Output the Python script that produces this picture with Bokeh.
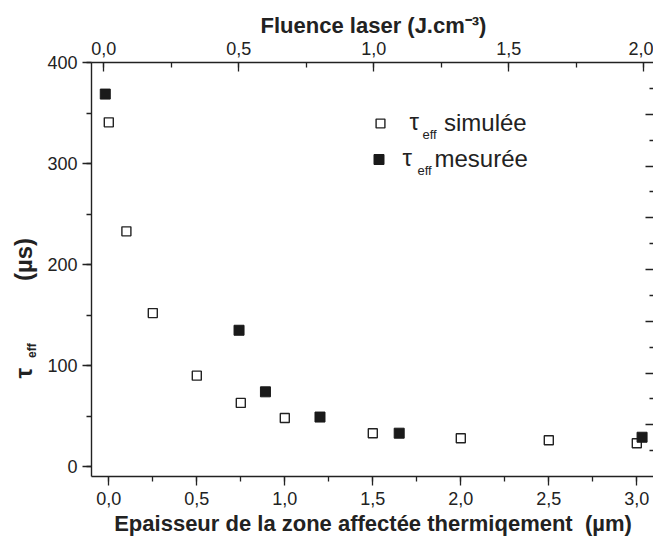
import math
from bokeh.plotting import figure
from bokeh.models import (Range1d, LinearAxis, SingleIntervalTicker, FixedTicker,
                          CustomJSTickFormatter, Label, Legend, LegendItem)
from bokeh.core.properties import value
from bokeh.embed import file_html
from bokeh.resources import INLINE

try:
    from bokeh.core.enums import CoordinateUnits
    CANVAS_OK = "canvas" in CoordinateUnits
except Exception:
    CANVAS_OK = False

# ---- data ----
sim_thickness = [0.0, 0.1, 0.25, 0.5, 0.75, 1.0, 1.5, 2.0, 2.5, 3.0]
sim_tau = [341, 233, 152, 90, 63, 48, 33, 28, 26, 23]
mes_thickness = [-0.02, 0.74, 0.89, 1.2, 1.65, 3.03]
mes_tau = [369, 135, 74, 49, 33, 29]

bottom_tick_step = 0.5      # Epaisseur (µm)
top_tick_step = 0.5         # Fluence (J.cm-3)
left_tick_step = 100        # tau_eff (µs)
right_major_ticks = [1, 2, 3, 4, 5, 6, 7]
right_minor_ticks = [0.5, 1.5, 2.5, 3.5, 4.5, 5.5, 6.5, 7.5]

FONT = "Liberation Sans"
INK = "#222222"
NB = "\u00a0"

# frame placement (canvas pixels)
FL, FT, FB = 91, 62, 476
Q = 0.33  # empirical baseline correction (fraction of font size)

p = figure(width=653, height=537, output_backend="svg", toolbar_location=None,
           x_range=Range1d(-0.0983, 3.0949), y_range=Range1d(-9.9, 400.3),
           x_axis_type=None, y_axis_type=None,
           min_border_left=FL, min_border_right=0, min_border_top=FT, min_border_bottom=537 - FB)
p.outline_line_color = None
p.background_fill_color = "white"
p.border_fill_color = "white"
p.extra_x_ranges = {"fluence": Range1d(-0.04556, 2.0359)}
p.extra_y_ranges = {"right": Range1d(0, 8)}

comma = CustomJSTickFormatter(code="return tick.toFixed(1).replace('.', ',');")


def style(ax, tin, tout, mtin, mtout, standoff):
    ax.axis_line_color = INK
    ax.axis_line_width = 1.4
    ax.major_tick_line_color = INK
    ax.minor_tick_line_color = INK
    ax.major_tick_line_width = 1.3
    ax.minor_tick_line_width = 1.3
    ax.major_tick_in = tin
    ax.major_tick_out = tout
    ax.minor_tick_in = mtin
    ax.minor_tick_out = mtout
    ax.major_label_text_font = FONT
    ax.major_label_text_font_size = "18px"
    ax.major_label_text_color = INK
    ax.major_label_standoff = standoff


bottom = LinearAxis(ticker=SingleIntervalTicker(interval=bottom_tick_step, num_minor_ticks=2),
                    formatter=comma)
style(bottom, 0, 9, 0, 5, 6)
p.add_layout(bottom, "below")

left = LinearAxis(ticker=SingleIntervalTicker(interval=left_tick_step, num_minor_ticks=2))
style(left, 0, 9, 0, 5, 5)
p.add_layout(left, "left")

top = LinearAxis(x_range_name="fluence",
                 ticker=SingleIntervalTicker(interval=top_tick_step, num_minor_ticks=2),
                 formatter=comma)
style(top, 9, 0, 5, 0, 8)
p.add_layout(top, "above")

# right side: long and short inward ticks, no labels, no line (axis line lies off-picture)
for ticks, length in ((right_major_ticks, 8), (right_minor_ticks, 4)):
    ax = LinearAxis(y_range_name="right", ticker=FixedTicker(ticks=[], minor_ticks=ticks))
    style(ax, 0, 0, length, 0, 0)
    ax.axis_line_color = None
    p.add_layout(ax, "right")

r_sim = p.scatter(sim_thickness, sim_tau, marker="square", size=9,
                  fill_color="white", line_color=INK, line_width=1.4)
r_mes = p.scatter(mes_thickness, mes_tau, marker="square", size=10,
                  fill_color="#1a1a1a", line_color="#1a1a1a", line_width=1)


def legend_for(renderer, text, cx, cy, gw, label_x):
    gh = 28
    left_x = cx - gw / 2
    lg = Legend(items=[LegendItem(label=value(text), renderers=[renderer])],
                location=(left_x - FL, FB - (cy + gh / 2)),
                glyph_width=gw, glyph_height=gh, label_height=gh,
                label_standoff=int(round(label_x - (left_x + gw))),
                padding=0, margin=0, spacing=0, border_line_color=None,
                background_fill_alpha=0,
                label_text_font=FONT, label_text_font_size="24px", label_text_color=INK)
    p.add_layout(lg)


legend_for(r_sim, "simulée", 380, 122.5, 22, 444)
legend_for(r_mes, "mesurée", 378, 158.5, 25, 434)


def inner(text, x, y, size):
    # text inside the frame (positions relative to the frame's bottom-left)
    p.add_layout(Label(text=text, x=x - FL, y=FB - (y - Q * size), x_units="screen",
                       y_units="screen", text_font=FONT, text_font_size=f"{size}px",
                       text_color=INK, text_align="left", text_baseline="alphabetic"))


inner("τ", 409, 129, 24)
inner("eff", 422, 138.5, 13)
inner("τ", 402, 165, 24)
inner("eff", 417, 174, 13)


def outer(text, x, y, size, side, align="left", rotated=False):
    angle = math.pi / 2 if rotated else 0.0
    if rotated:
        x = x - Q * size
    else:
        y = y - Q * size
    if CANVAS_OK:
        lbl = Label(text=text, x=x, y=y, x_units="canvas", y_units="canvas")
        where = side
    else:
        lbl = Label(text=text, x=x - FL, y=FB - y, x_units="screen", y_units="screen")
        where = "center"
    lbl.text_font = FONT
    lbl.text_font_size = f"{size}px"
    lbl.text_font_style = "bold"
    lbl.text_color = INK
    lbl.text_align = align
    lbl.text_baseline = "alphabetic"
    lbl.angle = angle
    p.add_layout(lbl, where)


outer("Fluence laser (J.cm\u207b\u00b3)", 373, 32.5, 22, "above", align="center")
outer("Epaisseur de la zone affectée thermiqement" + NB + " (µm)", 372.5, 530.5, 22, "below",
      align="center")
outer("τ" + NB * 13 + "(µs)", 31, 378, 24, "left", rotated=True)
outer("eff", 35, 357.5, 12, "left", rotated=True)

open("out.html", "w").write(file_html(p, INLINE))
